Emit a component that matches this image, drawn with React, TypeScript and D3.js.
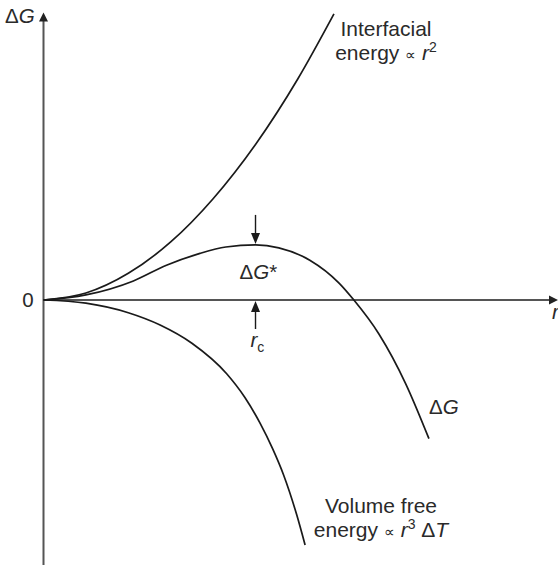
import React from "react";
import * as d3 from "d3";

// Radius (r) and free-energy values for each curve, in arbitrary units
const interfacialR = [0, 1, 2, 3, 4, 5, 6, 6.85];
const interfacialG = [0, 0.165, 0.63, 1.37, 2.39, 3.67, 5.22, 6.75];

const volumeR = [0, 1, 2, 2.75, 3.5, 4.32, 4.75, 5.11, 5.4, 5.66, 5.97, 6.17];
const volumeG = [0, -0.075, -0.3, -0.59, -1.02, -1.74, -2.3, -2.91, -3.5, -4.12, -5.06, -5.78];

const totalR = [0, 1, 2.12, 2.9, 3.69, 4.3, 5.0, 5.55, 6.28, 6.97, 7.32, 7.91, 8.54, 9.09];
const totalG = [0, 0.12, 0.45, 0.82, 1.1, 1.25, 1.3, 1.23, 0.94, 0.4, 0, -0.8, -1.97, -3.27];

const yTickLabels = ["0"];

const W = 558;
const H = 565;
const FONT = "'Liberation Sans', Arial, Helvetica, sans-serif";
const FS = 21;
const FS_SYM = 20.5;

const x = d3.scaleLinear().domain([0, 12.11]).range([43.5, 557]);
const y = d3.scaleLinear().domain([-6.25, 6.77]).range([565, 13]);

const zip = (rs: number[], gs: number[]): [number, number][] =>
  rs.map((r, i) => [r, gs[i]]);

const line = d3
  .line<[number, number]>()
  .x((d) => x(d[0]))
  .y((d) => y(d[1]))
  .curve(d3.curveMonotoneX);

export default function App() {
  const x0 = x(0);
  const y0 = y(0);

  // critical nucleus: maximum of the total curve
  const peakIdx = d3.maxIndex(totalG);
  const rc = totalR[peakIdx];
  const gStar = totalG[peakIdx];
  const px = x(rc);
  const py = y(gStar);

  const axisColor = "#555";
  const curveColor = "#1a1a1a";
  const textColor = "#2a2a2a";

  return (
    <svg
      width={W}
      height={H}
      viewBox={`0 0 ${W} ${H}`}
      style={{ position: "fixed", left: 0, top: 0, background: "#fff" }}
      fontFamily={FONT}
      fontSize={FS}
      fill={textColor}
    >
      {/* axes */}
      <line x1={x0} y1={H} x2={x0} y2={20} stroke={axisColor} strokeWidth={2} />
      <polygon points={`${x0},12.5 ${x0 - 4.5},21.5 ${x0 + 4.5},21.5`} fill="#222" />
      <line x1={x0} y1={y0} x2={550} y2={y0} stroke={axisColor} strokeWidth={2} />
      <polygon points={`558,${y0} 549,${y0 - 4.5} 549,${y0 + 4.5}`} fill="#222" />

      {/* curves */}
      <path d={line(zip(interfacialR, interfacialG)) || ""} fill="none" stroke={curveColor} strokeWidth={1.7} />
      <path d={line(zip(volumeR, volumeG)) || ""} fill="none" stroke={curveColor} strokeWidth={1.7} />
      <path d={line(zip(totalR, totalG)) || ""} fill="none" stroke={curveColor} strokeWidth={1.7} />

      {/* arrow down onto the maximum */}
      <line x1={px} y1={py - 30} x2={px} y2={py - 10} stroke={curveColor} strokeWidth={1.4} />
      <polygon points={`${px},${py - 1} ${px - 4.5},${py - 12} ${px + 4.5},${py - 12}`} fill={curveColor} />

      {/* arrow up to r_c on the axis */}
      <line x1={px} y1={y0 + 29} x2={px} y2={y0 + 10} stroke={curveColor} strokeWidth={1.4} />
      <polygon points={`${px},${y0 + 1} ${px - 4.5},${y0 + 12} ${px + 4.5},${y0 + 12}`} fill={curveColor} />

      {/* tick label */}
      {yTickLabels.map((t) => (
        <text key={t} x={28} y={y0 + 6.5} textAnchor="middle" fontSize={FS_SYM}>
          {t}
        </text>
      ))}

      {/* axis titles */}
      <text x={5} y={23} fontSize={FS_SYM}>
        Δ<tspan fontStyle="italic">G</tspan>
      </text>
      <text x={552} y={318.5} fontStyle="italic" fontSize={FS_SYM}>
        r
      </text>

      {/* annotations */}
      <text x={px - 16} y={py + 34} fontSize={FS_SYM}>
        Δ<tspan fontStyle="italic">G</tspan>*
      </text>
      <text x={px - 5} y={y0 + 47} fontSize={FS_SYM}>
        <tspan fontStyle="italic">r</tspan>
        <tspan fontSize={14} dy={5}>c</tspan>
      </text>
      <text x={429} y={414} fontSize={FS_SYM}>
        Δ<tspan fontStyle="italic">G</tspan>
      </text>

      <text x={386} y={36} textAnchor="middle">
        Interfacial
      </text>
      <text x={386} y={60} textAnchor="middle">
        energy <tspan fontSize={15}>∝</tspan> <tspan fontStyle="italic">r</tspan>
        <tspan fontSize={14} dy={-8}>2</tspan>
      </text>

      <text x={381} y={513} textAnchor="middle">
        Volume free
      </text>
      <text x={381} y={537} textAnchor="middle">
        energy <tspan fontSize={15}>∝</tspan> <tspan fontStyle="italic">r</tspan>
        <tspan fontSize={14} dy={-8}>3</tspan>
        <tspan dy={8}> Δ</tspan>
        <tspan fontStyle="italic">T</tspan>
      </text>
    </svg>
  );
}
